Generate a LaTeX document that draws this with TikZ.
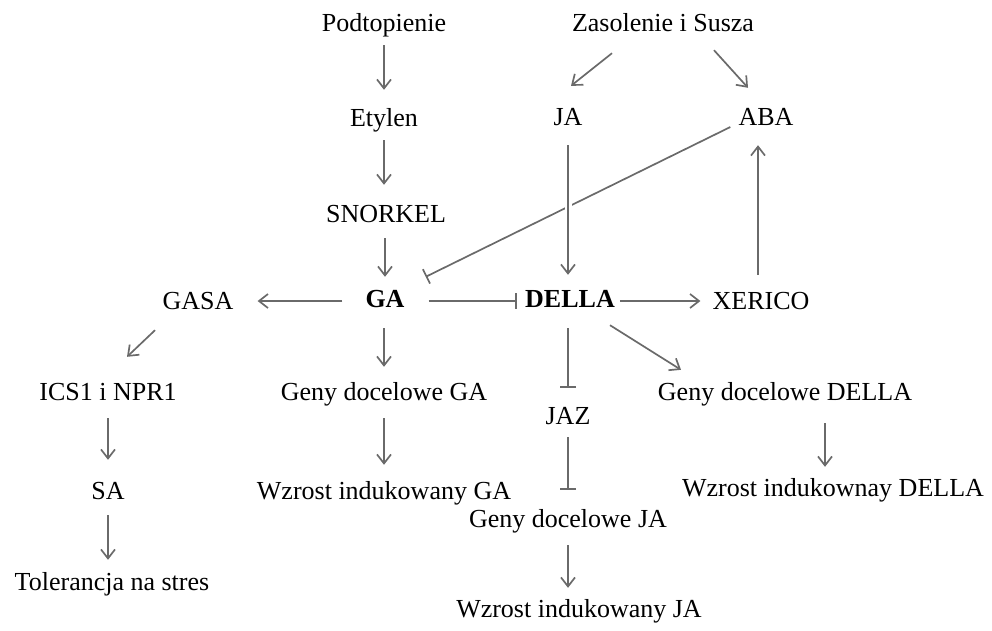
\documentclass[tikz,border=0pt]{standalone}
\usepackage{fontspec}
\setmainfont{Liberation Serif}
\usetikzlibrary{arrows.meta,calc}
\definecolor{linegray}{HTML}{6A6A6A}
\begin{document}
\begin{tikzpicture}[x=1pt,y=-1pt,
  lbl/.style={anchor=base,inner sep=0pt,text height=18pt,text depth=6pt,font=\fontsize{26}{30}\selectfont},
  blbl/.style={lbl,font=\fontsize{26}{30}\selectfont\bfseries},
  conn/.style={draw=linegray,line width=1.7pt},
  arr/.style={conn,-{Straight Barb[length=9pt,width=14pt]}},
  inh/.style={conn,-{Bar[width=16pt]}}]
\useasboundingbox (0,0) rectangle (992,630);
% nodes
\node[lbl] (pod) at (384,31) {Podtopienie};
\node[lbl] (zs) at (663,31) {Zasolenie i Susza};
\node[lbl] (ety) at (384,126) {Etylen};
\node[lbl] (ja) at (568,125) {JA};
\node[lbl] (aba) at (766,125) {ABA};
\node[lbl] (sno) at (386,222) {SNORKEL};
\node[lbl] (gasa) at (198,309) {GASA};
\node[blbl] (ga) at (385,307) {GA};
\node[blbl] (della) at (570,307) {DELLA};
\node[lbl] (xer) at (761,309) {XERICO};
\node[lbl] (ics) at (108,400) {ICS1 i NPR1};
\node[lbl] (gga) at (384,400) {Geny docelowe GA};
\node[lbl] (jaz) at (568,424) {JAZ};
\node[lbl] (gdella) at (785,400) {Geny docelowe DELLA};
\node[lbl] (sa) at (108,499) {SA};
\node[lbl] (wga) at (384,499) {Wzrost indukowany GA};
\node[lbl] (wdella) at (833,496) {Wzrost indukownay DELLA};
\node[lbl] (gja) at (568,527) {Geny docelowe JA};
\node[lbl] (tol) at (112,590) {Tolerancja na stres};
\node[lbl] (wja) at (579,617) {Wzrost indukowany JA};
% connectors
\draw[arr,shorten <=8pt,shorten >=18pt] (pod.south) -- (ety.north);
\draw[arr,shorten <=8pt,shorten >=19pt] (ety.south) -- (sno.north -| ety.south);
\draw[arr,shorten <=10pt,shorten >=12pt] (sno.south -| ga.north) -- (ga.north);
\draw[arr] ($(zs.south)+(-51,16)$) -- ($(ja.north)+(3,-21)$);
\draw[arr] ($(zs.south)+(51,13)$) -- ($(aba.north)+(-18,-19)$);
\draw[inh] ($(aba.west)+(-8,8)$) -- ($(ga.north east)+(21,-12)$);
\draw[arr,preaction={draw=white,line width=7pt,-}] ($(ja.south)+(0,14)$) -- ($(della.north -| ja.south)+(0,-14)$);
\draw[arr,shorten <=16pt,shorten >=14pt] (xer.north -| 758,0) -- (aba.south -| 758,0);
\draw[arr,shorten <=23pt,shorten >=24pt] (ga.west) -- (gasa.east |- ga.west);
\draw[inh,shorten <=24pt,shorten >=8pt] (ga.east) -- (della.west);
\draw[arr,shorten <=5pt,shorten >=12pt] (della.east) -- (xer.west |- della.east);
\draw[arr] ($(gasa.south)+(-43,15)$) -- ($(ics.north)+(19,-25)$);
\draw[arr,shorten <=15pt,shorten >=15pt] (ga.south -| gga.north) -- (gga.north);
\draw[inh,shorten <=15pt,shorten >=18pt] (della.south -| jaz.north) -- (jaz.north);
\draw[arr] ($(della.south)+(40,12)$) -- ($(gdella.north)+(-104,-12)$);
\draw[arr,shorten <=12pt,shorten >=21pt] (ics.south) -- (sa.north);
\draw[arr,shorten <=12pt,shorten >=16pt] (gga.south) -- (wga.north);
\draw[inh,shorten <=7pt,shorten >=19pt] (jaz.south) -- (gja.north);
\draw[arr,shorten <=17pt,shorten >=11pt] ($(gdella.south)+(40,0)$) -- (wdella.north -| 825,0);
\draw[arr,shorten <=10pt,shorten >=12pt] (sa.south) -- (tol.north -| sa.south);
\draw[arr,shorten <=12pt,shorten >=11pt] (gja.south) -- (wja.north -| gja.south);
\end{tikzpicture}
\end{document}
